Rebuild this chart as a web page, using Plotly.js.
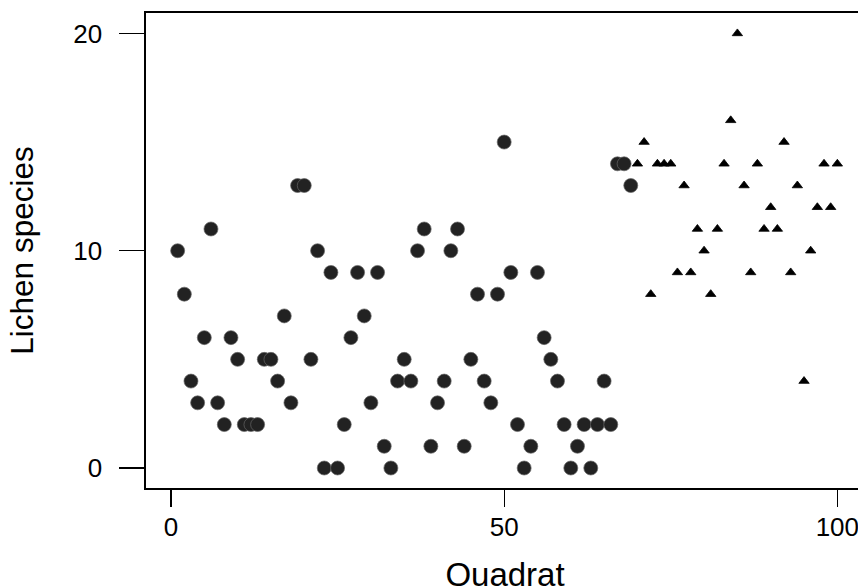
<!DOCTYPE html>
<html>
<head>
<meta charset="utf-8">
<script src="https://cdn.plot.ly/plotly-3.0.1.min.js"></script>
<style>
  html, body { margin: 0; padding: 0; overflow: hidden; background: #ffffff; }
</style>
</head>
<body>
<div id="chart"></div>
<script>
// Lichen species counts per quadrat, two groups of quadrats
const circleQuadrat = [1, 2, 3, 4, 5, 6, 7, 8, 9, 10, 11, 12, 13, 14, 15, 16, 17, 18, 19, 20,
  21, 22, 23, 24, 25, 26, 27, 28, 29, 30, 31, 32, 33, 34, 35, 36, 37, 38, 39, 40,
  41, 42, 43, 44, 45, 46, 47, 48, 49, 50, 51, 52, 53, 54, 55, 56, 57, 58, 59, 60,
  61, 62, 63, 64, 65, 66, 67, 68, 69];
const circleSpecies = [10, 8, 4, 3, 6, 11, 3, 2, 6, 5, 2, 2, 2, 5, 5, 4, 7, 3, 13, 13,
  5, 10, 0, 9, 0, 2, 6, 9, 7, 3, 9, 1, 0, 4, 5, 4, 10, 11, 1, 3,
  4, 10, 11, 1, 5, 8, 4, 3, 8, 15, 9, 2, 0, 1, 9, 6, 5, 4, 2, 0,
  1, 2, 0, 2, 4, 2, 14, 14, 13];

const triangleQuadrat = [70, 71, 72, 73, 74, 75, 76, 77, 78, 79, 80, 81, 82, 83, 84, 85,
  86, 87, 88, 89, 90, 91, 92, 93, 94, 95, 96, 97, 98, 99, 100];
const triangleSpecies = [14, 15, 8, 14, 14, 14, 9, 13, 9, 11, 10, 8, 11, 14, 16, 20,
  13, 9, 14, 11, 12, 11, 15, 9, 13, 4, 10, 12, 14, 12, 14];

const xTickVals = [0, 50, 100];
const yTickVals = [0, 10, 20];
const xLabel = 'Quadrat';
const yLabel = 'Lichen species';

const FONT = '"Liberation Sans", Arial, Helvetica, sans-serif';

const traces = [
  {
    type: 'scatter',
    mode: 'markers',
    x: circleQuadrat,
    y: circleSpecies,
    marker: {
      symbol: 'circle',
      size: 14,
      color: '#222222',
      line: { color: '#666666', width: 0.7 }
    },
    hoverinfo: 'skip'
  },
  {
    type: 'scatter',
    mode: 'markers',
    x: triangleQuadrat,
    y: triangleSpecies,
    marker: {
      symbol: 'triangle-up',
      size: 9,
      color: '#000000',
      line: { color: '#000000', width: 0.8 }
    },
    hoverinfo: 'skip'
  }
];

const axisCommon = {
  showgrid: false,
  zeroline: false,
  showline: true,
  mirror: true,
  linecolor: '#000000',
  linewidth: 1.7,
  ticks: 'outside',
  tickcolor: '#000000',
  tickwidth: 1.2,
  tickfont: { family: FONT, size: 26, color: '#000000' },
  tickmode: 'array',
  automargin: false
};

// The figure runs slightly past the window on the right,
// so the frame's right edge falls outside the visible page.
const layout = {
  width: 870,
  height: 595,
  margin: { l: 146, r: 6, t: 13, b: 107, pad: 0 },
  paper_bgcolor: '#ffffff',
  plot_bgcolor: '#ffffff',
  showlegend: false,
  font: { family: FONT, color: '#000000' },
  xaxis: Object.assign({}, axisCommon, {
    range: [-3.75, 104],
    tickvals: xTickVals,
    ticktext: xTickVals.map(String),
    ticklen: 17,
    ticklabelstandoff: -2,
    title: { text: xLabel, font: { family: FONT, size: 33, color: '#000000' }, standoff: 22 }
  }),
  yaxis: Object.assign({}, axisCommon, {
    range: [-0.92, 20.94],
    tickvals: yTickVals,
    ticktext: yTickVals.map(String),
    ticklen: 25,
    ticklabelstandoff: 12,
    title: { text: yLabel, font: { family: FONT, size: 31.5, color: '#000000' }, standoff: 30 }
  })
};

Plotly.newPlot('chart', traces, layout, { staticPlot: true, displayModeBar: false });
</script>
</body>
</html>
